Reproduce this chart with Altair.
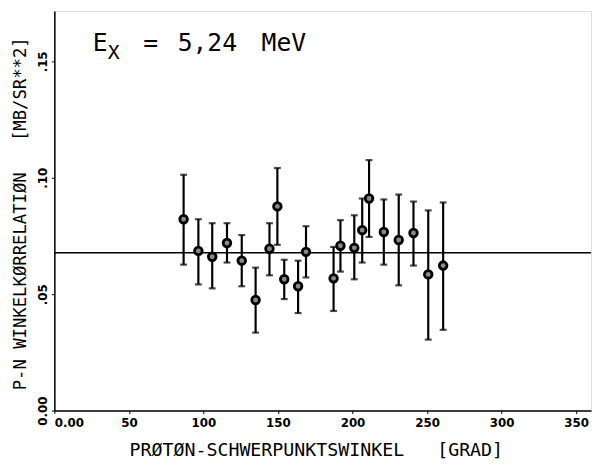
import altair as alt
import pandas as pd

angle = [86.7, 96.6, 105.9, 115.8, 125.7, 135.0, 144.3, 149.6, 154.2, 163.5, 168.8,
         187.3, 191.9, 201.2, 206.5, 211.1, 221.0, 231.0, 240.9, 250.8, 260.8]
value = [0.0822, 0.0686, 0.0661, 0.0720, 0.0644, 0.0475, 0.0695, 0.0877, 0.0564, 0.0534, 0.0682,
         0.0568, 0.0708, 0.0699, 0.0775, 0.0911, 0.0767, 0.0733, 0.0763, 0.0585, 0.0623]
upper = [0.1013, 0.0822, 0.0805, 0.0805, 0.0754, 0.0614, 0.0805, 0.1042, 0.0648, 0.0644, 0.0792,
         0.0703, 0.0818, 0.0839, 0.0911, 0.1076, 0.0907, 0.0928, 0.0898, 0.0860, 0.0894]
lower = [0.0627, 0.0542, 0.0525, 0.0636, 0.0534, 0.0335, 0.0581, 0.0712, 0.0479, 0.0419, 0.0572,
         0.0428, 0.0597, 0.0564, 0.0636, 0.0746, 0.0627, 0.0538, 0.0623, 0.0305, 0.0347]
mean_level = [0.0678]

x_ticks = [0, 50, 100, 150, 200, 250, 300, 350]
y_ticks = [0.0, 0.05, 0.10, 0.15]

NB = "\u00a0"
x_title = "PRØTØN-SCHWERPUNKTSWINKEL" + NB * 3 + "[GRAD]"
y_title = "P-N" + NB + "WINKELKØRRELATIØN" + NB * 3 + "[MB/SR**2]"

df = pd.DataFrame({"angle": angle, "value": value, "upper": upper, "lower": lower})
mean_df = pd.DataFrame({"level": mean_level})

FONT = "DejaVu Sans"
MONO = "DejaVu Sans Mono"

xscale = alt.Scale(domain=[0, 360], nice=False, zero=False)
yscale = alt.Scale(domain=[0, 0.1716], nice=False, zero=False)

xaxis = alt.Axis(values=x_ticks, title=x_title,
                 labelExpr="datum.value == 0 ? '0.00' : format(datum.value, 'd')",
                 grid=False, tickSize=3, labelFontSize=12, labelFontWeight="bold", labelPadding=4,
                 titleFontSize=18.5, titleFontWeight="normal",
                 titleX=265, titleY=45, titleBaseline="alphabetic", titleAnchor="middle",
                 domainColor="black", tickColor="black", domainWidth=1.5,
                 labelColor="black", titleColor="black", labelFont=FONT, titleFont=MONO)
yaxis = alt.Axis(values=y_ticks, title=y_title,
                 labelExpr="datum.value == 0 ? '0.00' : replace(format(datum.value, '.2f'), '0.', '.')",
                 labelAngle=270, labelAlign="center", labelBaseline="bottom",
                 grid=False, tickSize=3, labelFontSize=12, labelFontWeight="bold",
                 titleFontSize=17.5, titleFontWeight="normal",
                 titleX=-34, titleY=205, titleAngle=270, titleAlign="center", titleBaseline="middle",
                 domainColor="black", tickColor="black", domainWidth=1.5,
                 labelColor="black", titleColor="black", labelFont=FONT, titleFont=MONO)

base = alt.Chart(df)

bars = base.mark_rule(color="black", strokeWidth=2.2).encode(
    x=alt.X("angle:Q", scale=xscale, axis=xaxis),
    y=alt.Y("lower:Q", scale=yscale, axis=yaxis),
    y2="upper:Q",
)
cap_top = base.mark_tick(color="black", thickness=2.2, size=7, orient="horizontal").encode(
    x=alt.X("angle:Q", scale=xscale), y=alt.Y("upper:Q", scale=yscale))
cap_bot = base.mark_tick(color="black", thickness=2.2, size=7, orient="horizontal").encode(
    x=alt.X("angle:Q", scale=xscale), y=alt.Y("lower:Q", scale=yscale))
points = base.mark_point(shape="circle", size=60, filled=False, color="black",
                         strokeWidth=2.8, fill="#8a8a8a", fillOpacity=1).encode(
    x=alt.X("angle:Q", scale=xscale), y=alt.Y("value:Q", scale=yscale))

hline = alt.Chart(mean_df).mark_rule(color="black", strokeWidth=1.5).encode(
    y=alt.Y("level:Q", scale=yscale))

def label(txt, size, px, py):
    return alt.Chart(mean_df).mark_text(text=txt, fontSize=size, font=MONO, align="left",
                                        baseline="alphabetic", color="black").encode(
        x=alt.value(px), y=alt.value(py))

t1 = label("E", 25, 39, 40)
t2 = label("X", 20, 54, 49)
t3 = label("=", 25, 90, 40)
t4 = label("5,24", 25, 125, 40)
t5 = label("MeV", 25, 210, 40)

chart = alt.layer(hline, bars, cap_top, cap_bot, points, t1, t2, t3, t4, t5).properties(
    width=544, height=405,
    autosize=alt.AutoSizeParams(type="none"),
    padding={"left": 47, "top": 0, "right": 2, "bottom": 52},
).configure_view(stroke="black", strokeWidth=1.5).configure(background="white")

chart.save("out.html", embed_options={"renderer": "svg", "actions": False})
